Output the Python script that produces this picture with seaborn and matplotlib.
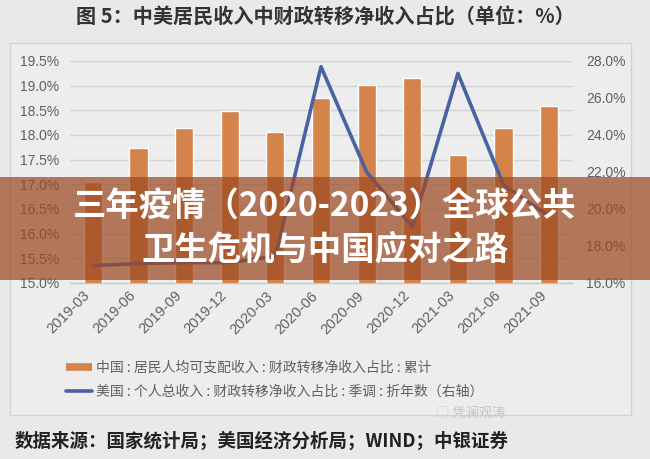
import matplotlib
matplotlib.use("Agg")
import matplotlib.pyplot as plt
import matplotlib.transforms as mtransforms
from matplotlib.patches import Rectangle
from matplotlib.lines import Line2D
import seaborn as sns
import pandas as pd

# ---------------- data ----------------
categories = ['2019-03', '2019-06', '2019-09', '2019-12', '2020-03', '2020-06',
              '2020-09', '2020-12', '2021-03', '2021-06', '2021-09']
china_share = [17.05, 17.74, 18.15, 18.48, 18.07, 18.74, 19.01, 19.16, 17.60, 18.14, 18.58]
us_share = [16.94, 17.05, 17.10, 17.10, 17.45, 27.69, 22.00, 19.04, 27.33, 21.30, 19.60]
left_ticks = [15.0, 15.5, 16.0, 16.5, 17.0, 17.5, 18.0, 18.5, 19.0, 19.5]
right_ticks = [16.0, 18.0, 20.0, 22.0, 24.0, 26.0, 28.0]

title = '图 5：中美居民收入中财政转移净收入占比（单位：%）'
legend_cn = '中国 : 居民人均可支配收入 : 财政转移净收入占比 : 累计'
legend_us = '美国 : 个人总收入 : 财政转移净收入占比 : 季调 : 折年数（右轴）'
source = '数据来源：国家统计局；美国经济分析局；WIND；中银证券'
banner_l1 = '三年疫情（2020-2023）全球公共'
banner_l2 = '卫生危机与中国应对之路'
watermark = '凭澜观涛'

df = pd.DataFrame({'季度': categories, '中国': china_share, '美国': us_share})

# ---------------- style ----------------
sns.set_theme(style='white')
plt.rcParams['font.family'] = ['Noto Sans CJK SC', 'DejaVu Sans']
W, H = 650, 459
BAR = '#D4834A'
LINE = '#4A62A3'
TXT = '#606060'

fig = plt.figure(figsize=(W / 100, H / 100), dpi=100, facecolor='#e9e9e9')

# chart frame
fig.patches.append(Rectangle((10 / W, 1 - 415 / H), 621 / W, 372 / H,
                             transform=fig.transFigure, facecolor='#ededed',
                             edgecolor='#d2d2d2', lw=1.0, zorder=-5))

ax = fig.add_axes([70 / W, 1 - 283 / H, 502 / W, 222 / H])
ax.set_facecolor('none')
sns.barplot(data=df, x='季度', y='中国', color=BAR, width=0.4, ax=ax,
            saturation=1, zorder=3)
ax.set_ylim(15.0, 19.5)
ax.set_xlim(-0.5, len(categories) - 0.5)
ax.set_yticks(left_ticks)
ax.set_yticklabels([f'{v:.1f}%' for v in left_ticks], family='Liberation Sans',
                   fontsize=10, color=TXT)
ax.yaxis.grid(True, color='#d3d3d3', lw=1.0, zorder=0)
ax.set_axisbelow(True)
for s in ['top', 'right', 'left']:
    ax.spines[s].set_visible(False)
ax.spines['bottom'].set_color('#c8c8c8')
ax.spines['bottom'].set_linewidth(1.0)
ax.tick_params(axis='y', length=0, pad=8)
ax.set_xlabel('')
ax.set_ylabel('')
# category tick marks between bars
ax.set_xticks([i for i in range(len(categories))])
ax.set_xticks([i - 0.5 for i in range(len(categories) + 1)], minor=True)
ax.tick_params(axis='x', which='major', length=0, pad=4)
ax.tick_params(axis='x', which='minor', length=4, color='#c8c8c8', width=1,
               direction='out')
offset = mtransforms.ScaledTranslation(-10 / 100, 0, fig.dpi_scale_trans)
ax.set_xticklabels(categories, rotation=45, ha='right', va='top',
                   rotation_mode='anchor', family='Liberation Sans',
                   fontsize=10.5, color=TXT)
for lab in ax.get_xticklabels():
    lab.set_transform(lab.get_transform() + offset)

ax2 = ax.twinx()
sns.lineplot(data=df, x='季度', y='美国', color=LINE, lw=2.6, sort=False,
             ax=ax2, zorder=4)
ax2.set_ylim(16.0, 28.0)
ax2.set_yticks(right_ticks)
ax2.set_yticklabels([f'{v:.1f}%' for v in right_ticks], family='Liberation Sans',
                    fontsize=10, color=TXT)
ax2.tick_params(axis='y', length=0, pad=10)
for s in ax2.spines.values():
    s.set_visible(False)
ax2.set_ylabel('')
ax2.set_xlabel('')
ax2.grid(False)

# title
fig.text(0.5, 1 - 17 / H, title, ha='center', va='center', fontsize=14.5,
         fontweight='bold', color='#333333')

# legend
handles = [Line2D([], [], color=BAR, lw=5.5, solid_capstyle='butt'),
           Line2D([], [], color=LINE, lw=2.6)]
fig.legend(handles, [legend_cn, legend_us], loc='upper left',
           bbox_to_anchor=(60 / W, 1 - 355 / H), frameon=False,
           fontsize=10, labelcolor=TXT, handlelength=1.9, handletextpad=0.3,
           labelspacing=0.75, borderaxespad=0)

# watermark
fig.text(505 / W, 1 - 413 / H, '◌ ' + watermark, ha='right', va='center',
         fontsize=9.5, color='#c4c4c4', family=['Noto Sans CJK SC', 'DejaVu Sans'])

# source
fig.text(15 / W, 1 - 441 / H, source, ha='left', va='center', fontsize=13.3,
         fontweight='bold', color='#222222')

# overlay banner
fig.patches.append(Rectangle((0, 1 - 280 / H), 1, 103 / H, transform=fig.transFigure,
                             facecolor='#9c4a22', alpha=0.72, lw=0, zorder=20))
fig.text(0.5, 1 - 207 / H, banner_l1, ha='center', va='center', fontsize=24,
         fontweight='bold', color='white', zorder=21)
fig.text(0.5, 1 - 250 / H, banner_l2, ha='center', va='center', fontsize=24,
         fontweight='bold', color='white', zorder=21)

fig.savefig('out.png', dpi=100, facecolor=fig.get_facecolor())
